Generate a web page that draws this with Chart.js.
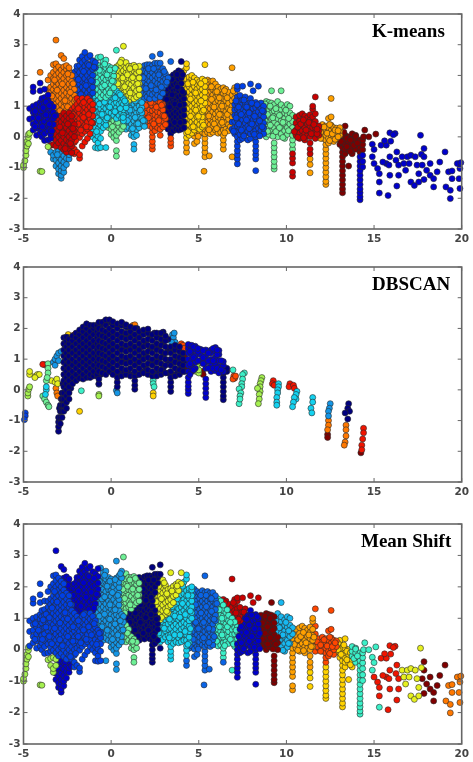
<!DOCTYPE html>
<html>
<head>
<meta charset="utf-8">
<script src="https://cdn.jsdelivr.net/npm/chart.js@4"></script>
<style>
  body { margin: 0; background: #fff; width: 473px; height: 762px; overflow: hidden; position: relative; }
  canvas { position: absolute; left: 0; }
  .name { position: absolute; font: bold 19px "Liberation Serif"; color: #000; white-space: nowrap; }
</style>
</head>
<body>
<canvas id="kmeans" width="473" height="250" style="top:0"></canvas>
<canvas id="dbscan" width="473" height="250" style="top:253px"></canvas>
<canvas id="meanshift" width="473" height="252" style="top:510px"></canvas>
<div class="name" style="left:372px;top:20px">K-means</div>
<div class="name" style="left:372px;top:273px">DBSCAN</div>
<div class="name" style="left:361px;top:530px">Mean Shift</div>
<script>
const xTicks = [-5, 0, 5, 10, 15, 20];
const yTicks = [-3, -2, -1, 0, 1, 2, 3, 4];

const cloudLeft = [
  [-5,-1,-0.92],[-4.92,-0.78],[-4.86,-0.6,-0.45],[-4.8,-0.3,-0.15],[-4.72,-0.22,-0.02,0.08],
  [-4.65,0.12,0.58,0.92],[-4.45,0.22,0.42,0.62,0.8,1,1.48,1.62],[-4.25,0.05,0.28,0.5,0.72,0.9,1.05],
  [-4.05,0.12,0.35,0.55,0.75,0.98,1.12,1.5,1.75,2.1,-1.12],[-3.95,-1.13,0,0.22,0.45,0.66,0.85,1.05,1.25],
  [-3.8,-0.12,0.1,0.3,0.5,0.7,0.9,1.1,1.28,1.55],[-3.6,-0.32,-0.1,0.18,0.38,0.6,0.8,1,1.18,1.36,1.54,1.85],
  [-3.45,-0.5,-0.28,-0.05,0.08,0.28,0.48,0.7,0.9,1.08,1.26,1.44,1.62,2],
  [-3.3,-0.72,-0.6,-0.25,-0.02,0.18,0.4,0.6,0.8,0.98,1.16,1.36,1.54,1.72,1.9,2.1,2.35],
  [-3.15,-0.95,-0.75,-0.5,-0.3,-0.1,0.1,0.3,0.5,0.7,0.9,1.07,1.25,1.45,1.63,1.8,2,2.2,2.38,3.15],
  [-3,-1.2,-1.05,-0.85,-0.65,-0.45,-0.2,0,0.2,0.4,0.6,0.78,0.97,1.16,1.35,1.53,1.72,1.9,2.08,2.28],
  [-2.85,-1.35,-1.25,-1.1,-0.95,-0.75,-0.55,-0.35,-0.12,0.08,0.28,0.48,0.68,0.88,1.06,1.25,1.43,1.62,1.8,2,2.18,2.65],
  [-2.7,-1.15,-1,-0.82,-0.62,-0.42,-0.22,0,0.2,0.38,0.58,0.78,0.97,1.15,1.34,1.52,1.72,1.9,2.1,2.28,2.55],
  [-2.55,-0.9,-0.7,-0.5,-0.3,-0.1,0.1,0.3,0.5,0.68,0.88,1.06,1.25,1.43,1.62,1.8,2,2.2,2.32],
  [-2.4,-0.72,-0.58,-0.38,-0.18,0,0.2,0.4,0.6,0.78,0.97,1.16,1.35,1.53,1.72,1.9,2.1,2.25],
  [-2.25,-0.52,-0.3,-0.1,0.1,0.3,0.5,0.68,0.88,1.06,1.25,1.43,1.62,1.8,2],
  [-2.1,-0.55,-0.4,-0.18,0,0.2,0.4,0.6,0.78,0.97,1.16,1.35,1.55,1.75,1.95,2.1],
  [-1.95,-0.5,0.05,0.28,0.48,0.68,0.88,1.06,1.25,1.43,1.62,1.8,2,2.2,2.3],
  [-1.8,-0.7,-0.58,-0.02,0.15,0.38,0.58,0.78,0.97,1.16,1.35,1.53,1.72,1.9,2.1,2.32,2.5],
  [-1.65,-0.3,0.1,0.28,0.48,0.68,0.88,1.06,1.25,1.43,1.62,1.8,2,2.2,2.42,2.62],
  [-1.5,-0.17,0.18,0.38,0.58,0.78,0.97,1.16,1.35,1.53,1.72,1.9,2.1,2.3,2.5,2.75],
  [-1.35,-0.05,0.25,0.48,0.68,0.88,1.06,1.25,1.43,1.62,1.8,2,2.2,2.38,2.58],
  [-1.2,0.1,0.32,0.58,0.78,0.97,1.16,1.35,1.53,1.72,1.9,2.1,2.3,2.65],
  [-1.05,0,0.2,0.45,0.68,0.88,1.06,1.25,1.43,1.62,1.8,2,2.2,2.48]
];
const cloudMiddle = [
  [-0.9,-0.35,-0.1,0.1,0.32,0.52,0.72,0.92,1.1,1.28,1.46,1.65,1.85,2.05,2.25,2.42],
  [-0.75,-0.37,-0.2,0.02,0.25,0.45,0.62,0.82,1,1.18,1.36,1.55,1.74,1.92,2.12,2.33,2.58],
  [-0.6,-0.35,-0.05,0.18,0.38,0.55,0.75,0.92,1.1,1.28,1.46,1.65,1.85,2.05,2.25,2.6],
  [-0.45,0.3,0.48,0.65,0.82,1,1.18,1.36,1.55,1.74,1.92,2.12,2.33,2.45],
  [-0.3,-0.35,0.38,0.55,0.75,0.92,1.1,1.28,1.46,1.65,1.85,2.05,2.25,2.5],
  [-0.15,0.3,0.48,0.65,0.82,1,1.18,1.36,1.55,1.74,1.92,2.12,2.3],
  [0,0.08,0.25,0.42,0.6,0.78,0.95,1.12,1.3,1.5,1.7,1.88,2.05,2.25],
  [0.15,-0.02,0.15,0.34,0.52,0.7,0.88,1.06,1.24,1.42,1.6,1.8,1.98,2.15],
  [0.3,-0.12,-0.45,-0.63,0.05,0.24,0.42,0.6,0.78,0.95,1.12,1.3,1.5,1.7,1.88,2.08,2.28,2.82],
  [0.45,0.15,0.34,0.52,0.7,0.88,1.06,1.24,1.42,1.6,1.8,1.98,2.15,2.35],
  [0.6,0.25,0.42,0.6,0.78,0.95,1.12,1.3,1.5,1.7,1.88,2.08,2.28,2.5],
  [0.7,0.34,0.52,0.7,0.88,1.06,1.24,1.42,1.6,1.8,1.98,2.15,2.35,2.95],
  [0.85,0.25,0.42,0.6,0.78,0.95,1.12,1.3,1.5,1.7,1.88,2.08,2.25,2.42],
  [1,0.3,0.48,0.65,0.82,1,1.18,1.36,1.55,1.74,1.92,2.12,2.3],
  [1.15,0.05,0.24,0.42,0.6,0.78,0.95,1.12,1.3,1.5,1.7,1.88,2.08,2.3],
  [1.3,-0.25,-0.4,0,0.15,0.34,0.52,0.7,0.88,1.06,1.24,1.42,1.6,1.8,1.98,2.15,2.33],
  [1.45,0.05,0.24,0.42,0.6,0.78,0.95,1.12,1.3,1.5,1.7,1.88,2.08,2.2],
  [1.6,0.3,0.48,0.65,0.82,1,1.18,1.36,1.55,1.74,1.92,2.12,2.3],
  [1.75,0.42,0.6,0.78,0.95,1.12,1.3,1.5,1.7,1.88,2.08,2.25],
  [1.9,0.34,0.52,0.7,0.88,1.06,1.24,1.42,1.6,1.8,1.98,2.15,2.32],
  [2.05,0.45,0.6,0.78,0.95,1.12,1.3,1.5,1.7,1.88,2.08,2.28,2.35],
  [2.2,0.35,0.52,0.7,0.88,1.06,1.24,1.42,1.6,1.8,1.98,2.15,2.35],
  [2.35,-0.4,-0.28,-0.15,0,0.15,0.3,0.5,0.68,0.85,1.02,1.2,1.38,1.56,1.74,1.92,2.1,2.32,2.62],
  [2.5,0.2,0.35,0.55,0.72,0.9,1.08,1.25,1.45,1.65,1.82,2,2.2,2.4],
  [2.65,0.3,0.48,0.65,0.82,1,1.18,1.36,1.55,1.74,1.92,2.12,2.3,2.4],
  [2.8,0.05,0.25,0.42,0.6,0.78,0.95,1.12,1.3,1.5,1.7,1.88,2.1,2.4,2.7],
  [2.95,0.32,0.52,0.7,0.88,1.06,1.24,1.42,1.6,1.8,1.98,2.1,2.22],
  [3.1,0.4,0.6,0.78,0.95,1.12,1.3,1.5,1.7,1.88,2.05],
  [3.25,0.25,0.45,0.65,0.82,1,1.18,1.36,1.55,1.74,1.92],
  [3.4,-0.3,-0.18,-0.05,0.1,0.28,0.48,0.68,0.88,1.06,1.24,1.42,1.6,1.8,1.95,2.45],
  [3.55,0.2,0.38,0.55,0.75,0.95,1.12,1.3,1.5,1.7,1.88,2.02],
  [3.7,0.25,0.45,0.65,0.82,1,1.18,1.36,1.55,1.74,1.92,2.08],
  [3.85,0.22,0.38,0.55,0.75,0.95,1.12,1.3,1.5,1.7,1.88,2.08,2.15],
  [4,0.25,0.45,0.65,0.82,1,1.18,1.36,1.55,1.74,1.92,2.1,2.45]
];
const cloudRight = [
  [4.15,0.3,0.5,0.7,0.88,1.06,1.24,1.42,1.6,1.78,1.95,2.15],
  [4.3,-0.5,-0.35,-0.18,-0.02,0.12,0.3,0.48,0.65,0.82,1,1.18,1.36,1.55,1.72,1.88,2.25,2.38],
  [4.45,0.05,0.22,0.4,0.58,0.75,0.92,1.1,1.28,1.46,1.64,1.82,1.95],
  [4.6,0.12,0.3,0.48,0.65,0.82,1,1.18,1.36,1.55,1.72,1.9,2],
  [4.75,-0.22,0.02,0.22,0.4,0.58,0.75,0.92,1.1,1.28,1.46,1.64,1.82,1.92],
  [4.9,-0.15,0.1,0.3,0.48,0.65,0.82,1,1.18,1.36,1.55,1.72,1.85],
  [5.05,0.12,0.25,0.4,0.58,0.75,0.92,1.1,1.28,1.46,1.64,1.8],
  [5.2,0.15,0.32,0.48,0.65,0.82,1,1.18,1.36,1.55,1.72,1.88],
  [5.35,-0.65,-0.5,-0.35,-0.2,-0.05,0.1,0.25,0.4,0.58,0.75,0.92,1.1,1.28,1.46,1.64,1.82,2.35],
  [5.3,-1.12],
  [5.5,0.15,0.32,0.48,0.65,0.82,1,1.18,1.36,1.55,1.72,1.85],
  [5.6,-0.62],
  [5.65,0.1,0.25,0.4,0.58,0.75,0.92,1.1,1.28,1.46,1.62,1.8],
  [5.8,0.15,0.32,0.48,0.65,0.82,1,1.18,1.36,1.55,1.72,1.82],
  [5.95,0.22,0.4,0.58,0.75,0.92,1.1,1.28,1.46,1.6,1.72],
  [6.1,0.12,0.3,0.48,0.65,0.82,1,1.18,1.36,1.52,1.62],
  [6.25,0.15,0.4,0.58,0.75,0.92,1.1,1.28,1.46,1.55],
  [6.4,-0.4,-0.25,-0.1,0.05,0.22,0.4,0.55,0.72,0.9,1.08,1.25,1.42,1.6],
  [6.55,0.25,0.48,0.65,0.82,1,1.18,1.36,1.55],
  [6.7,0.2,0.4,0.58,0.75,0.92,1.1,1.28,1.45],
  [6.9,-0.65,2.25,0.25,0.48,0.65,0.82,1,1.18,1.36],
  [7.05,0.1,0.3,0.5,0.7,0.88,1.05,1.25,1.45,1.6],
  [7.2,-0.88,-0.72,-0.58,-0.45,-0.3,-0.15,0,0.18,0.35,0.55,0.72,0.92,1.1,1.3,1.55,1.65],
  [7.35,-0.1,0.08,0.28,0.45,0.65,0.82,1,1.15,1.35],
  [7.5,-0.05,0.15,0.35,0.55,0.72,0.92,1.08,1.2,1.65],
  [7.65,0.1,0.28,0.45,0.65,0.82,1,1.12,1.3],
  [7.8,-0.1,0.18,0.35,0.55,0.72,0.92,1.08],
  [7.95,-0.05,0.1,0.28,0.45,0.65,0.82,1,1.15,1.25,1.72],
  [8.1,0.15,0.35,0.55,0.72,0.92,1.08,1.5],
  [8.25,-1.1,-0.72,-0.58,-0.45,-0.3,-0.15,0,0.2,0.38,0.58,0.78,0.95,1.12],
  [8.4,0.1,0.28,0.45,0.65,0.82,1,1.65],
  [8.55,0.2,0.35,0.55,0.72,0.92,1.1],
  [8.7,0.1,0.28,0.45,0.65,0.82,1],
  [8.85,0,0.2,0.38,0.58,0.78,0.95,1.15],
  [9,0.08,0.28,0.48,0.68,0.85,1,1.12],
  [9.15,0.2,0.38,0.58,0.78,0.95,1.1,1.5],
  [9.3,-1.05,-0.95,-0.8,-0.65,-0.5,-0.35,-0.2,0.1,0.3,0.48,0.68,0.85,1.05],
  [9.5,0,0.22,0.4,0.6,0.8,0.95,1.15],
  [9.7,0.1,0.32,0.52,0.72,0.9,1.05,1.5],
  [9.9,-0.05,0.2,0.42,0.6,0.78,0.95],
  [10.05,0.08,0.3,0.5,0.72,1.05],
  [10.2,0.2,0.42,0.6,0.78,1],
  [10.35,-1.28,-1.15,-0.85,-0.7,-0.55,-0.4,-0.25,-0.1,0.05,0.3,0.5,0.7],
  [10.55,0.05,0.22,0.45,0.65],
  [10.75,-0.05,0.12,0.3,0.52,0.7],
  [10.9,0.02,0.2,0.4,0.75],
  [11.05,-0.1,0.1,0.3,0.48,0.68],
  [11.2,0.05,0.22,0.42,0.62],
  [11.35,-1.17,-0.9,-0.72,-0.55,-0.4,-0.2,0,0.18,0.35,0.55,0.72],
  [11.5,0.1,0.3,0.45,0.65,0.9,1.0],
  [11.65,-0.05,0.15,0.3,0.5,0.75,1.3],
  [11.85,0.05,0.2,0.35],
  [12.05,-0.05,0.1,0.25,0.4],
  [12.25,-1.55,-1.45,-1.3,-1.15,-1,-0.85,-0.7,-0.55,-0.4,-0.25,-0.1,0.05,0.2,0.35],
  [12.4,-0.2,-0.05,0.15,0.3,0.6],
  [12.55,-0.1,0.05,0.2,0.38,0.65,1.25],
  [12.7,-0.15,0,0.15,0.3],
  [12.85,-0.05,0.1,0.28],
  [13.05,-0.25,-0.1,0.05,0.2,0.3],
  [13.2,-1.82,-1.7,-1.55,-1.4,-1.25,-1.1,-0.95,-0.8,-0.65,-0.5,-0.35,-0.2,-0.08,0.05],
  [13.35,-0.55,-0.4,-0.25,-0.1,0.05,0.35],
  [13.55,-0.42,-0.3,-0.15,0,-0.95],
  [13.75,-0.55,-0.35,-0.2,-0.05,0.1],
  [13.95,-0.4,-0.25,-0.1,0.05,0.02]
];
const cloudTail = [
  [14.2,-2.05,-1.95,-1.82,-1.7,-1.55,-1.4,-1.25,-1.1,-0.95,-0.8,-0.65,-0.5,-0.35,-0.1],
  [14.35,-0.98,-0.8,-0.6,-0.42,-0.25,-0.1],
  [14.47,0.22],[14.4,0],[14.7,0],[15.1,0.09],[14.9,-0.24,-0.65],[15,-0.41,-0.87],[15.2,-1.03],
  [15.3,-1.2,-1.47,-1.83],[15.8,-1.91],[15.4,-0.27],[15.7,-0.27,-0.87],[15.6,-0.13],[15.95,-0.14],
  [15.9,0.13,-0.65,-1.25],[16.2,0.11],[16.1,0.07],[15.5,-0.82],[15.85,-0.92],[16.3,-0.49,-1.6],
  [16.25,-0.76],[16.4,-0.92,-1.25],[16.6,-0.65],[16.7,-0.87],[16.8,-1.09],[16.9,-0.65],
  [17.1,-0.6,-1.47],[17,-0.87],[17.3,-1.58],[17.35,-0.65],[17.45,-0.92],[17.55,-1.2,-1.47],
  [17.65,0.05],[17.7,-0.57],[17.85,-0.38,-0.65,-1.39],[17.75,-0.92],[18.2,-0.87,-1.25],[18,-1.09],
  [18.4,-1.36,-1.63],[18.75,-0.82],[18.6,-1.14],[19.05,-0.49],[19.25,-1.14],[19.45,-1.11,-1.36],
  [19.1,-1.63],[19.35,-1.74,-2.01],[19.75,-0.87],[19.95,-0.84],[19.9,-1.03,-1.68],[19.85,-1.36]
];
// loose points scattered over the blob, so it does not look like columns
const cloudLoose = [
  [-4.35,0.33],[-4.15,0.62],[-4.33,0.83],[-3.92,0.33],[-3.72,0.72],[-3.88,0.95],[-3.53,0.42],[-3.71,1.13],[-3.53,1.02],[-3.38,0.19],
  [-3.22,0.68],[-3.37,1.33],[-3.08,1.52],[-3.23,1.85],[-2.93,0.32],[-3.07,-0.58],[-2.78,0.13],[-2.92,0.85],[-2.63,1.18],[-2.78,1.72],
  [-2.62,-0.38],[-2.47,0.42],[-2.48,0.98],[-2.33,1.45],[-2.47,2.05],[-2.32,-0.22],[-2.18,0.27],[-2.17,0.73],[-2.03,1.22],[-2.17,1.73],
  [-2.02,-0.12],[-1.88,0.42],[-1.87,0.92],[-1.73,1.38],[-1.87,1.87],[-1.73,0.22],[-1.58,0.63],[-1.57,1.12],[-1.43,1.67],[-1.57,2.13],
  [-1.42,0.33],[-1.28,0.73],[-1.27,1.28],[-1.13,1.83],[-1.27,2.33],[-1.12,0.47],[-0.97,0.83],[-0.98,1.33],[-0.83,1.77],[-0.98,2.27],
  [-0.83,0.17],[-0.68,0.52],[-0.67,1.07],[-0.53,1.62],[-0.67,2.17],[-0.52,0.73],[-0.38,1.13],[-0.37,1.68],[-0.23,2.02],[-0.37,2.37],
  [-0.22,0.62],[-0.08,0.97],[-0.07,1.43],[0.07,1.82],[-0.07,2.18],[0.08,0.33],[0.22,0.82],[0.23,1.27],[0.38,1.73],[0.23,2.23],
  [0.38,0.47],[0.52,0.92],[0.53,1.37],[0.67,1.92],[0.53,2.42],[0.68,0.63],[0.78,1.17],[0.77,1.63],[0.93,2.02],[0.93,0.53],
  [1.07,0.87],[1.08,1.43],[1.23,1.93],[1.07,2.22],[1.22,0.27],[1.37,0.63],[1.38,1.17],[1.52,1.73],[1.38,2.27],[1.53,0.43],
  [1.67,0.87],[1.68,1.43],[1.83,1.93],[1.67,2.2],[1.83,0.53],[1.97,1.02],[1.98,1.57],[2.13,2.22],[2.13,0.62],[2.27,1.12],
  [2.28,1.67],[2.43,2.22],[2.43,0.42],[2.58,0.97],[2.57,1.53],[2.72,2.02],[2.72,0.53],[2.88,1.03],[2.87,1.62],[3.03,2.13],
  [3.03,0.68],[3.17,1.22],[3.18,1.78],[3.32,0.38],[3.33,0.97],[3.48,1.37],[3.47,1.87],[3.62,0.47],[3.63,1.07],[3.78,1.62],
  [3.77,2.03],[3.93,0.47],[3.92,1.03],[4.07,1.47],[4.08,2.02],[4.22,0.58],[4.23,1.12],[4.38,1.73],[4.38,0.17],[4.53,0.67],
  [4.52,1.23],[4.67,1.78],[4.68,0.33],[4.83,0.87],[4.82,1.43],[4.97,0.02],[4.98,0.67],[5.13,1.17],[5.12,1.73],[5.27,0.38],
  [5.28,0.87],[5.43,1.37],[5.42,1.73],[5.58,0.23],[5.57,0.68],[5.73,1.22],[5.72,1.63],[5.88,0.42],[5.87,0.97],[6.03,1.47],
  [6.02,0.27],[6.18,0.73],[6.17,1.27],[6.33,0.47],[6.32,1],[6.47,1.5],[6.48,0.13],[6.63,0.73],[6.62,1.27],[6.8,0.33],
  [6.8,0.87],[6.97,1.5],[6.98,0.18],[7.13,0.62],[7.12,1.17],[7.28,0.42],[7.27,0.97],[7.43,0.22],[7.42,0.73],[7.58,1.2],
  [7.57,0.03],[7.72,0.55],[7.73,0.97],[7.88,0.27],[7.87,0.78],[8.03,0.42],[8.02,1.1],[8.17,0.08],[8.18,0.67],[8.33,1.05],
  [8.48,0.03],[8.47,0.52],[8.63,0.85],[8.62,0.33],[8.78,0.52],[8.78,1.07],[8.93,0.18],[8.92,0.73],[9.08,0.38],[9.07,1],
  [9.23,0.02],[9.22,0.62],[9.4,0.17],[9.4,0.92],[9.6,0.3],[9.6,0.7],[9.8,-0.02],[9.8,0.47],[9.97,0.87],[10.12,0.2],[10.13,0.6],
  [10.45,0.17],[10.65,-0.02],[10.65,0.32],[10.82,0.42],[10.98,-0.03],[10.97,0.55],[11.12,0.22],[11.28,0.47],[11.42,0.1],[11.57,0.4],
  [11.75,0.1],[11.75,0.25],[11.95,-0.05],[11.95,0.15],[12.15,0.32],[12.32,0.12],[12.47,-0.12],[12.47,0.4],[12.62,0.1],[12.78,-0.08],
  [12.78,0.22],[12.95,0],[12.95,0.2],[13.12,-0.15],[13.28,0.15],[13.45,-0.32],[13.45,-0.05],[13.65,-0.48],[13.65,-0.1],[13.85,-0.28],[14.05,-0.2]
];

// jet-like cluster colours, in drawing order
const jet = {
  navy: "#00007f", blue: "#0000cc", royal: "#0040e6", azure: "#0a64e6", steel: "#1496e6", sky: "#18b8f0",
  cyan: "#14d2f0", aqua: "#3cf0c8", mint: "#6ef096", lime: "#a5f050", yellow: "#e6f01e",
  gold: "#ffd200", amber: "#ffa000", orange: "#ff7800", flame: "#ff4600", red: "#f01400",
  crimson: "#c80000", maroon: "#7f0000"
};

// centres picked by eye for each cluster seen in the panel: [x, y, colour]
const kmeansCentres = [
  [-3.9,0.6,"blue"],[-4.85,-0.5,"lime"],[-4,-1.12,"lime"],[-2.65,0.1,"crimson"],[-1.5,0.65,"red"],
  [-1.5,-0.25,"red"],[-2.75,1.5,"orange"],[-1.5,1.9,"royal"],[-2.85,-1.05,"steel"],[-0.35,1.8,"aqua"],
  [-0.55,0.7,"cyan"],[-0.7,-0.3,"cyan"],[0.35,0.95,"cyan"],[0.15,0.2,"mint"],[0.9,1.75,"yellow"],
  [1.3,0.55,"sky"],[1.3,-0.3,"sky"],[2.4,1.8,"azure"],[2.5,0.65,"flame"],[2.4,-0.2,"flame"],
  [3.65,1,"navy"],[4.7,1.05,"gold"],[6,1,"amber"],[5.5,-0.6,"amber"],[7.9,0.55,"royal"],[9.6,0.5,"mint"],
  [11.3,0.3,"crimson"],[12.6,0.2,"amber"],[12.25,-1,"amber"],[13.5,-0.2,"maroon"],[13.2,-1.2,"maroon"],
  [14.3,-1.4,"blue"],[16.5,-0.8,"blue"]
];
const meanShiftCentres = [
  [-3,0.9,"royal"],[-4.2,0.7,"royal"],[-4.85,-0.6,"lime"],[-4,-1.12,"lime"],[-2.9,-1.55,"blue"],[-1.4,1.95,"blue"],
  [-1.3,0.4,"royal"],[-0.2,1.2,"steel"],[0.2,0.7,"steel"],[0,1.95,"steel"],[0.4,0.3,"steel"],[1.1,1.8,"mint"],[0.9,0.25,"mint"],
  [2,1.05,"navy"],[1.4,0.8,"navy"],[2.2,2.1,"navy"],
  [2.35,-0.3,"navy"],[3,1.6,"yellow"],[3.8,0.95,"cyan"],[3.4,0.5,"cyan"],[5.4,0.9,"azure"],[5.4,-0.5,"azure"],[6.5,0.7,"aqua"],
  [7.2,1.45,"crimson"],[8,0.5,"blue"],[9.1,0.5,"maroon"],[9.85,0.75,"sky"],[10.9,0.2,"amber"],
  [12.3,0.15,"flame"],[12.25,-1,"gold"],[13.2,-0.4,"gold"],[13.2,-1.4,"gold"],[14.3,-0.3,"aqua"],[14.2,-1.6,"aqua"],
  [15.8,-0.8,"red"],[17.2,-1.1,"yellow"],[18.3,-1,"maroon"],[19.7,-1.3,"orange"]
];

// DBSCAN panel, read directly: [x, y, y, y ...]
const dbCore = [
  [-3,-1.35,-1.2,-1.05,-0.9],[-2.9,-1.1,-0.9,-0.7,-0.5],[-2.8,-0.9,-0.7,-0.5,-0.3,-0.1],
  [-2.7,-0.7,-0.5,-0.3,-0.1,0.1,0.3,0.5,0.7,0.9,1.1,1.3,1.5,1.7],
  [-2.55,-0.6,-0.4,-0.2,0,0.2,0.4,0.6,0.8,1,1.2,1.4,1.6,1.72],
  [-2.4,-0.3,-0.1,0.1,0.3,0.5,0.7,0.9,1.1,1.3,1.5,1.65],
  [-2.2,0.2,0.4,0.6,0.8,1,1.2,1.4,1.6,1.75],[-2,0.3,0.5,0.7,0.9,1.1,1.3,1.5,1.7,1.85],
  [-1.8,0.38,0.6,0.8,1,1.2,1.4,1.6,1.8,1.95],[-1.6,0.35,0.5,0.7,0.9,1.1,1.3,1.5,1.7,1.9,2.05],
  [-1.4,0.4,0.6,0.8,1,1.2,1.4,1.6,1.8,2,2.15],[-1.2,0.4,0.5,0.7,0.9,1.1,1.3,1.5,1.7,1.9,2.1],
  [-1,0.45,0.6,0.8,1,1.2,1.4,1.6,1.8,2,2.1],[-0.8,0.45,0.5,0.7,0.9,1.1,1.3,1.5,1.7,1.9,2.1],
  [-0.7,0.2,0.35,0.6,0.8,1,1.2,1.4,1.6,1.8,2,2.2],[-0.5,0.55,0.75,0.95,1.15,1.35,1.55,1.75,1.95,2.2],
  [-0.3,0.5,0.7,0.9,1.1,1.3,1.5,1.7,1.9,2.1,2.28],[-0.1,0.6,0.8,1,1.2,1.4,1.6,1.8,2,2.28],
  [0.1,0.5,0.7,0.9,1.1,1.3,1.5,1.7,1.9,2.1,2.22],[0.35,0.1,0.25,0.4,0.6,0.8,1,1.2,1.4,1.6,1.8,2,2.15],
  [0.6,0.45,0.7,0.9,1.1,1.3,1.5,1.7,1.9,2.1,2.2],[0.85,0.5,0.65,0.85,1.05,1.25,1.45,1.65,1.85,2.05,2.12],
  [1.1,0.45,0.7,0.9,1.1,1.3,1.5,1.7,1.9,2.05],[1.35,0.02,0.15,0.3,0.45,0.6,0.8,1,1.2,1.4,1.6,1.8,2],
  [1.6,0.5,0.7,0.9,1.1,1.3,1.5,1.7,1.9],[1.85,0.55,0.8,1,1.2,1.4,1.6,1.8,1.95],
  [2.1,0.5,0.65,0.85,1.05,1.25,1.45,1.65,1.85,1.98],[2.35,0.45,0.6,0.8,1,1.2,1.4,1.6,1.8],
  [2.6,0.45,0.7,0.9,1.1,1.3,1.5,1.7,1.85],[2.85,0.5,0.65,0.85,1.05,1.25,1.45,1.65,1.85],
  [3.1,0.55,0.8,1,1.2,1.4,1.6,1.75],[3.4,-0.05,0.1,0.25,0.4,0.6,0.8,1,1.2,1.4],
  [3.65,0.45,0.7,0.9,1.1,1.3,1.45],[3.9,0.5,0.65,0.85,1.05,1.25,1.4],[4.1,0.6,0.8,1,1.2]
];
const dbCoreLoose = [
  [-2.95,-0.6],[-2.85,-0.3],[-2.75,0.2],[-2.62,-0.05],[-2.63,0.45],[-2.62,0.95],[-2.63,1.45],[-2.47,0.2],[-2.48,0.75],[-2.47,1.25],
  [-2.3,0.05],[-2.3,0.5],[-2.3,0.95],[-2.3,1.45],[-2.1,0.35],[-2.1,0.8],[-2.1,1.25],[-2.1,1.62],[-1.9,0.45],[-1.9,0.85],[-1.9,1.3],[-1.9,1.75],
  [-1.7,0.5],[-1.7,1],[-1.7,1.45],[-1.7,1.85],[-1.5,0.5],[-1.5,0.9],[-1.5,1.35],[-1.5,1.75],[-1.5,2.05],[-1.3,0.6],[-1.3,1],[-1.3,1.45],[-1.3,1.85],
  [-1.1,0.6],[-1.1,1.05],[-1.1,1.5],[-1.1,1.95],[-0.9,0.65],[-0.9,1.05],[-0.9,1.45],[-0.9,1.85],[-0.6,0.5],[-0.6,0.9],[-0.6,1.3],[-0.6,1.7],[-0.6,2.1],
  [-0.4,0.6],[-0.4,1],[-0.4,1.4],[-0.4,1.85],[-0.4,2.22],[-0.2,0.65],[-0.2,1.05],[-0.2,1.45],[-0.2,1.85],[-0.2,2.2],[0,0.6],[0,1],[0,1.4],[0,1.8],[0,2.2],
  [0.2,0.55],[0.2,1],[0.2,1.4],[0.2,1.8],[0.2,2.1],[0.48,0.55],[0.48,0.95],[0.48,1.35],[0.48,1.75],[0.48,2.12],[0.72,0.6],[0.72,1],[0.72,1.4],[0.72,1.8],[0.72,2.12],
  [0.97,0.6],[0.97,0.95],[0.97,1.35],[0.97,1.75],[0.97,2.05],[1.22,0.5],[1.22,1],[1.22,1.4],[1.22,1.8],[1.48,0.5],[1.48,0.9],[1.48,1.3],[1.48,1.7],[1.48,2],
  [1.72,0.6],[1.72,1],[1.72,1.4],[1.72,1.8],[1.98,0.7],[1.98,1.1],[1.98,1.5],[1.98,1.9],[2.22,0.55],[2.22,0.95],[2.22,1.35],[2.22,1.75],[2.47,0.55],[2.47,0.95],[2.47,1.4],[2.47,1.85],
  [2.72,0.6],[2.72,1],[2.72,1.4],[2.72,1.78],[2.97,0.7],[2.97,1.1],[2.97,1.55],[2.97,1.88],[3.25,0.55],[3.25,0.95],[3.25,1.35],[3.25,1.65],[3.52,0.5],[3.52,0.9],[3.52,1.3],
  [3.78,0.55],[3.78,1],[3.78,1.35],[4,0.75],[4,1.15],[4.2,0.6],[4.2,0.95]
];
const dbBlue = [
  [4.4,-0.12,0,0.12,0.25,0.4,0.6,0.8,1,1.2,1.35,1.48],[4.6,0.6,0.75,0.95,1.15,1.35,1.45],
  [4.8,0.7,0.9,1.1,1.3,1.42],[5.1,0.95,1.15,1.32],[5.4,-0.25,-0.1,0.05,0.2,0.35,0.7,0.9,1.1,1.3],
  [5.7,0.6,0.8,1,1.2,1.3],[5.95,0.62,0.85,1.05,1.25,1.38],[6.15,0.55,0.75,0.95,1.15,1.28],
  [6.4,0.6,0.8,0.92],[4.5,0.5,0.85,1.25],[4.7,0.65,1.05,1.4],[4.95,0.95,1.25,1.35],[5.25,0.85,1.05,1.28],
  [5.55,0.7,0.95,1.2],[5.82,0.7,0.95,1.35],[6.05,0.7,1.15,1.3],[6.28,0.65,0.95]
];
const dbNavyTeeth = [[6.4,-0.32,-0.2,-0.05,0.1,0.25,0.4,0.55],[6.6,0.6,0.7]];
const dbRoyal = [[-4.9,-0.75,-0.85],[-4.95,-0.97],[-0.7,0.18]];
const dbSteel = [[-3.3,0.9],[-3.2,0.8,1],[-3.1,1.1],[-3,0.95,1.2],[-2.85,1.25],[0.3,-0.02],[0.35,-0.1],
  [3.5,1.8,1.6],[3.55,1.7],[3.65,1.55],[3.45,1.55],[3.6,1.85],[12.5,-0.45],[12.45,-0.6],[12.4,-0.7,-0.85]];
const dbCyan = [[-3.7,0,0.1],[-3.75,-0.15],[9.55,0.2,0.1],[9.5,0,-0.1],[9.45,-0.25,-0.4,-0.5],[10.6,-0.05],
  [10.55,-0.15,-0.3],[10.45,-0.25],[10.4,-0.4],[10.35,-0.55],[11.5,-0.25,-0.4],[11.4,-0.6],[11.45,-0.75]];
const dbAqua = [[-1.7,-0.03],[2.4,0.3,0.2],[2.45,0.1],[6.95,0.65],[7.6,0.55],[7.5,0.5,0.35],[7.45,0.2,0.1],
  [7.3,0.03,-0.45],[7.4,-0.1],[7.35,-0.2,-0.3]];
const dbMint = [[-3.9,-0.2],[-3.8,-0.3],[-3.7,-0.4,0.3],[-3.6,-0.5,0.85,0.7,0.55],[-3.55,-0.55],[-3.65,0.4]];
const dbLime = [[-4.75,-0.2,-0.1],[-4.7,0.02],[-4.65,0.1],[-0.7,-0.15,-0.2],[4.95,0.85],[4.9,0.75],[4.85,0.6],
  [5,0.55,0.65],[8.6,0.4],[8.55,0.3],[8.5,0.2,0.1,-0.05],[8.35,0.05],[8.45,-0.15,-0.3],[8.4,-0.45]];
const dbYellow = [[-4.65,0.5,0.6],[-4.3,0.45],[-4.2,0.5],[-4.1,0.5],[-4.35,0.4],[-3.4,0.3],[-3.2,0.25],[-3.1,0.35],[-3.05,0.2]];
const dbGold = [[-2.45,1.8],[-2.4,1.7],[-1.8,-0.7],[2.4,-0.1,-0.2]];
const dbOrange = [[-3.15,0.05],[-3.1,-0.1],[-3.05,-0.2],[1.25,2.1],[1.35,2.12],[12.4,-1,-1.15],[12.35,-1.3],
  [13.4,-1.15,-1.3,-1.5],[13.35,-1.7],[13.3,-1.8]];
const dbFlame = [[4,1.5],[4.1,1.45],[4.15,1.35],[7,0.45],[7.05,0.38],[6.95,0.35],[7.1,0.45]];
const dbRed = [[-3.8,0.82],[-3.9,0.83],[-2.15,1.78],[-2.05,1.8],[-2.2,1.7],[9.25,0.3],[9.2,0.2],[9.3,0.15],
  [10.2,0.2],[10.15,0.1],[10.4,0.15],[10.45,0.05],[14.4,-1.25,-1.4],[14.35,-1.6],[14.3,-1.8,-1.95]];
const dbDark = [[4.15,1.25,1.15],[4.2,1.05],[4.35,0.75],[4.3,0.7],[4.4,0.78],[5.2,0.6],[5.25,0.5],[12.35,-1.45,-1.55],[14.25,-2.05]];
const dbNavySide = [[13.55,-0.45],[13.5,-0.6,-0.95],[13.6,-0.7],[13.35,-0.75]];

function expand(rows) {
  const pts = [];
  rows.forEach(r => r.slice(1).forEach(y => pts.push({ x: r[0], y: y })));
  return pts;
}

function dot(color, data) {
  return { data: data, backgroundColor: color, borderColor: "#2a2a2a", borderWidth: 0.6, pointRadius: 3, clip: false };
}

// each point goes to the cluster of its nearest centre
function byCentre(points, centres) {
  const groups = {};
  Object.keys(jet).forEach(k => groups[k] = []);
  points.forEach(p => {
    let best = centres[0], bestD = Infinity;
    centres.forEach(c => {
      const d = (p.x - c[0]) * (p.x - c[0]) + (p.y - c[1]) * (p.y - c[1]);
      if (d < bestD) { bestD = d; best = c; }
    });
    groups[best[2]].push(p);
  });
  const used = [];
  centres.forEach(c => { if (!used.includes(c[2])) used.push(c[2]); });
  return used.map(k => dot(jet[k], groups[k]));
}

const frame = {
  id: "frame",
  afterDraw(chart) {
    const c = chart.ctx, a = chart.chartArea, sx = chart.scales.x, sy = chart.scales.y;
    c.save();
    c.strokeStyle = "#666";
    c.lineWidth = 1.6;
    c.strokeRect(a.left, a.top, a.right - a.left, a.bottom - a.top);
    c.lineWidth = 1;
    c.beginPath();
    xTicks.forEach(v => {
      const x = sx.getPixelForValue(v);
      c.moveTo(x, a.top); c.lineTo(x, a.top + 4);
      c.moveTo(x, a.bottom); c.lineTo(x, a.bottom - 4);
    });
    yTicks.forEach(v => {
      const y = sy.getPixelForValue(v);
      c.moveTo(a.left, y); c.lineTo(a.left + 4, y);
      c.moveTo(a.right, y); c.lineTo(a.right - 4, y);
    });
    c.stroke();
    c.restore();
  }
};

function panel(id, datasets, axisHeight) {
  const tickFont = { family: "DejaVu Sans", size: 10.5, weight: "bold" };
  new Chart(document.getElementById(id), {
    type: "scatter",
    data: { datasets: datasets },
    plugins: [frame],
    options: {
      responsive: false,
      animation: false,
      layout: { padding: { top: 14, right: 6.3, left: 0, bottom: 0 } },
      plugins: { legend: { display: false }, tooltip: { enabled: false } },
      scales: {
        x: {
          min: -5, max: 20,
          afterBuildTicks: s => { s.ticks = xTicks.map(v => ({ value: v })); },
          afterFit: s => { s.height = axisHeight; },
          grid: { display: false, drawTicks: false }, border: { display: false },
          ticks: { color: "#444", font: tickFont, maxRotation: 0, padding: 4 }
        },
        y: {
          min: -3, max: 4,
          afterBuildTicks: s => { s.ticks = yTicks.map(v => ({ value: v })); },
          afterFit: s => { s.width = 23.5; },
          grid: { display: false, drawTicks: false }, border: { display: false },
          ticks: { color: "#444", font: tickFont, padding: 3 }
        }
      }
    }
  });
}

const cloud = expand(cloudLeft.concat(cloudMiddle, cloudRight, cloudTail, cloudLoose));

panel("kmeans", byCentre(cloud, kmeansCentres), 21);
panel("dbscan", [
  dot(jet.blue, expand(dbBlue)), dot(jet.navy, expand(dbCore)), dot(jet.navy, expand(dbCoreLoose)), dot(jet.navy, expand(dbNavyTeeth)),
  dot(jet.navy, expand(dbNavySide)), dot(jet.royal, expand(dbRoyal)), dot(jet.steel, expand(dbSteel)),
  dot(jet.cyan, expand(dbCyan)), dot(jet.aqua, expand(dbAqua)), dot(jet.mint, expand(dbMint)),
  dot(jet.lime, expand(dbLime)), dot(jet.yellow, expand(dbYellow)), dot(jet.gold, expand(dbGold)),
  dot(jet.orange, expand(dbOrange)), dot(jet.flame, expand(dbFlame)), dot(jet.red, expand(dbRed)),
  dot(jet.maroon, expand(dbDark))
], 21);
panel("meanshift", byCentre(cloud, meanShiftCentres), 18);
</script>
</body>
</html>
